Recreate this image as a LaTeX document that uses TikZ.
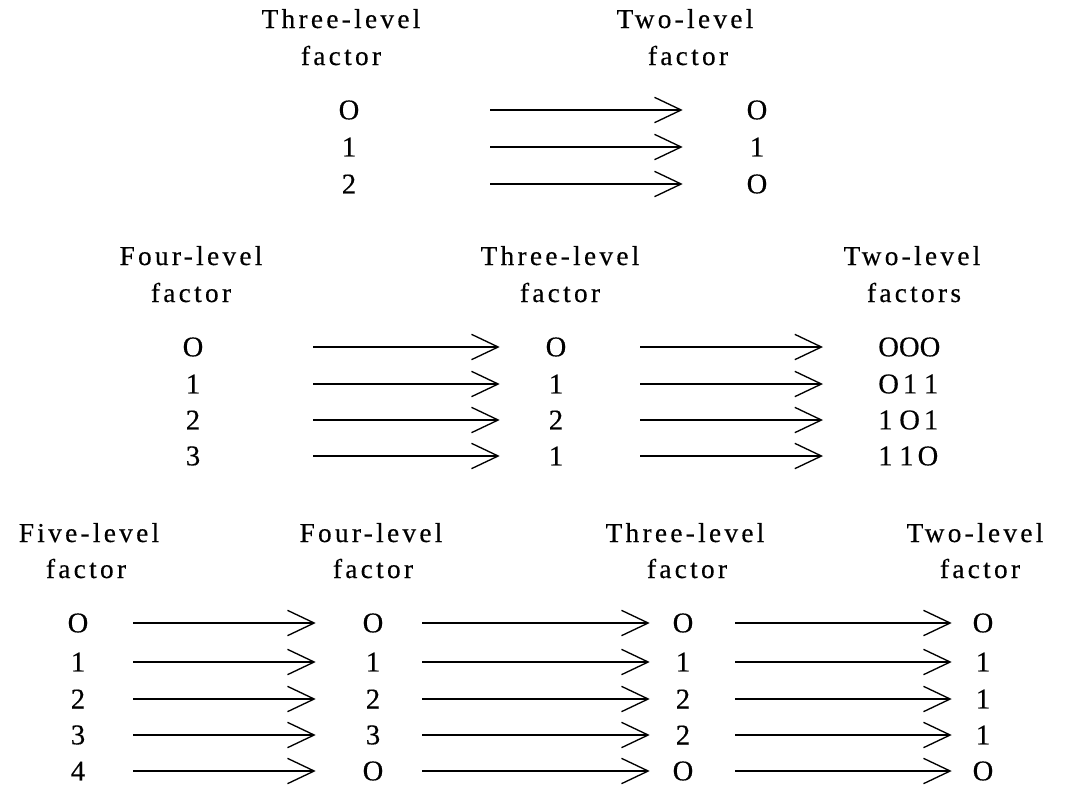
\documentclass[tikz,border=0pt]{standalone}
\usepackage{fontspec}
\setmainfont{Liberation Serif}
\newfontfamily\hdrfont[LetterSpace=12,FakeBold=0.4]{Liberation Serif}
\newfontfamily\valfont[FakeBold=0.4]{Liberation Serif}
\usetikzlibrary{arrows.meta}
\begin{document}
\begin{tikzpicture}[x=0.75pt,y=-0.75pt,
  hdr/.style={font=\hdrfont\fontsize{20.5}{24}\selectfont, inner sep=0pt, anchor=base},
  val/.style={font=\valfont\fontsize{21.5}{24}\selectfont, inner sep=0pt, minimum width=18pt},
  trip/.style={val, anchor=west},
  arr/.style={-{Straight Barb[length=20pt,width=19pt,line width=1pt]}, line width=1.3pt},
]
\useasboundingbox (0,0) rectangle (1066,789);

% ---------- Section 1 ----------
\node[hdr] (s1h1a) at (341,28) {Three-level};
\node[hdr] (s1h1b) at (341,65) {factor};
\node[hdr] (s1h2a) at (685,28) {Two-level};
\node[hdr] (s1h2b) at (688,65) {factor};

\node[val] (s1a0) at (349,110) {O};
\node[val] (s1a1) at (349,147) {1};
\node[val] (s1a2) at (349,184) {2};
\node[val] (s1b0) at (757,110) {O};
\node[val] (s1b1) at (757,147) {1};
\node[val] (s1b2) at (757,184) {O};

\tikzset{s1ab/.style={arr, shorten <=96.75pt, shorten >=46.5pt}}
\draw[s1ab] (s1a0) -- (s1b0);
\draw[s1ab] (s1a1) -- (s1b1);
\draw[s1ab] (s1a2) -- (s1b2);

% ---------- Section 2 ----------
\node[hdr] (s2h1a) at (191,265) {Four-level};
\node[hdr] (s2h1b) at (191,302) {factor};
\node[hdr] (s2h2a) at (560,265) {Three-level};
\node[hdr] (s2h2b) at (560,302) {factor};
\node[hdr] (s2h3a) at (912,265) {Two-level};
\node[hdr] (s2h3b) at (914,302) {factors};

\node[val] (s2a0) at (193,347) {O};
\node[val] (s2a1) at (193,384) {1};
\node[val] (s2a2) at (193,420) {2};
\node[val] (s2a3) at (193,456) {3};
\node[val] (s2b0) at (556,347) {O};
\node[val] (s2b1) at (556,384) {1};
\node[val] (s2b2) at (556,420) {2};
\node[val] (s2b3) at (556,456) {1};
\node[trip] (s2c0) at (878,347) {OOO};
\node[trip] (s2c1) at (878,384) {O\hspace{3pt}1\hspace{5pt}1};
\node[trip] (s2c2) at (878,420) {1\hspace{5pt}O\hspace{3pt}1};
\node[trip] (s2c3) at (878,456) {1\hspace{5pt}1\hspace{3pt}O};

\tikzset{s2ab/.style={arr, shorten <=81pt, shorten >=33pt},
         s2bc/.style={arr, shorten <=54pt, shorten >=41.25pt}}
\foreach \i in {0,1,2,3}{
  \draw[s2ab] (s2a\i) -- (s2b\i);
  \draw[s2bc] (s2b\i) -- (s2c\i);
}

% ---------- Section 3 ----------
\node[hdr] (s3h1a) at (89,542) {Five-level};
\node[hdr] (s3h1b) at (86,578) {factor};
\node[hdr] (s3h2a) at (371,542) {Four-level};
\node[hdr] (s3h2b) at (373,578) {factor};
\node[hdr] (s3h3a) at (685,542) {Three-level};
\node[hdr] (s3h3b) at (687,578) {factor};
\node[hdr] (s3h4a) at (975,542) {Two-level};
\node[hdr] (s3h4b) at (980,578) {factor};

\node[val] (s3a0) at (78,623) {O};
\node[val] (s3a1) at (78,662) {1};
\node[val] (s3a2) at (78,699) {2};
\node[val] (s3a3) at (78,735) {3};
\node[val] (s3a4) at (78,771) {4};
\node[val] (s3b0) at (373,623) {O};
\node[val] (s3b1) at (373,662) {1};
\node[val] (s3b2) at (373,699) {2};
\node[val] (s3b3) at (373,735) {3};
\node[val] (s3b4) at (373,771) {O};
\node[val] (s3c0) at (683,623) {O};
\node[val] (s3c1) at (683,662) {1};
\node[val] (s3c2) at (683,699) {2};
\node[val] (s3c3) at (683,735) {2};
\node[val] (s3c4) at (683,771) {O};
\node[val] (s3d0) at (983,623) {O};
\node[val] (s3d1) at (983,662) {1};
\node[val] (s3d2) at (983,699) {1};
\node[val] (s3d3) at (983,735) {1};
\node[val] (s3d4) at (983,771) {O};

\tikzset{s3ab/.style={arr, shorten <=32.25pt, shorten >=33.75pt},
         s3bc/.style={arr, shorten <=27.75pt, shorten >=15.75pt},
         s3cd/.style={arr, shorten <=30pt, shorten >=14.25pt}}
\foreach \i in {0,...,4}{
  \draw[s3ab] (s3a\i) -- (s3b\i);
  \draw[s3bc] (s3b\i) -- (s3c\i);
  \draw[s3cd] (s3c\i) -- (s3d\i);
}
\end{tikzpicture}
\end{document}
